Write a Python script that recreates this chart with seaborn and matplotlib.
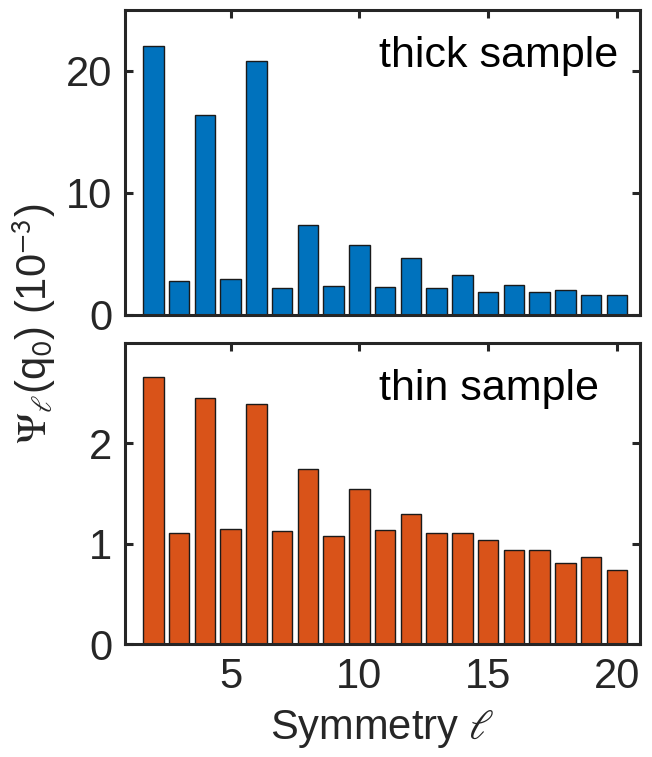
import matplotlib
matplotlib.use("Agg")
import matplotlib.pyplot as plt
import seaborn as sns
import numpy as np

# Data
ell = [2, 3, 4, 5, 6, 7, 8, 9, 10, 11, 12, 13, 14, 15, 16, 17, 18, 19, 20]
thick = [22.05, 2.75, 16.4, 2.95, 20.8, 2.25, 7.35, 2.4, 5.7, 2.3, 4.65,
         2.2, 3.25, 1.85, 2.5, 1.85, 2.05, 1.65, 1.65]
thin = [2.66, 1.11, 2.45, 1.15, 2.39, 1.13, 1.74, 1.08, 1.54, 1.14, 1.30,
        1.11, 1.11, 1.04, 0.94, 0.94, 0.81, 0.87, 0.74]
xticks = [5, 10, 15, 20]
yticks_top = [0, 10, 20]
yticks_bot = [0, 1, 2]

sns.set_theme(style="white")
plt.rcParams['font.family'] = ['Liberation Sans', 'DejaVu Sans']
plt.rcParams['mathtext.fontset'] = 'stix'

W, H = 652, 757
fig = plt.figure(figsize=(W / 100, H / 100), dpi=100)

def rect(l, t, r, b):
    return [l / W, 1 - b / H, (r - l) / W, (b - t) / H]

ax1 = fig.add_axes(rect(125, 10, 640, 315))
ax2 = fig.add_axes(rect(125, 343, 640, 644))

FS = 30
FT = 31

for ax, vals, col, yt, ylim, label, lx in [
        (ax1, thick, '#0072BD', yticks_top, (0, 25), 'thick sample', 0.957),
        (ax2, thin, '#D95319', yticks_bot, (0, 3), 'thin sample', 0.920)]:
    sns.barplot(x=ell, y=vals, native_scale=True, width=0.8, color=col,
                saturation=1, edgecolor='#1a1a1a', linewidth=1.0, ax=ax)
    ax.set_xlim(0.9, 20.9)
    ax.set_ylim(*ylim)
    ax.set_yticks(yt)
    ax.set_xticks(xticks)
    for s in ax.spines.values():
        s.set_visible(True)
        s.set_linewidth(2.2)
        s.set_color('#262626')
    ax.tick_params(direction='in', length=6, width=2.2, color='#262626',
                   top=True, right=True, bottom=True, left=True,
                   labelsize=FS, labelcolor='#262626', pad=9)
    ax.text(lx, 0.812, label, transform=ax.transAxes, ha='right',
            va='baseline', fontsize=FT, color='black')
    ax.set_xlabel('')
    ax.set_ylabel('')

ax1.tick_params(labelbottom=False)
ax2.set_xlabel(r'Symmetry $\ell$', fontsize=FS, color='#262626', labelpad=8)

fig.text(0.052, 0.572, r'$\Psi_{\ell}$(q$_{\mathsf{0}}$) (10$^{\mathsf{-3}}$)',
         rotation=90, va='center', ha='center', fontsize=FS, color='#262626')

fig.savefig('out.png', dpi=100)
